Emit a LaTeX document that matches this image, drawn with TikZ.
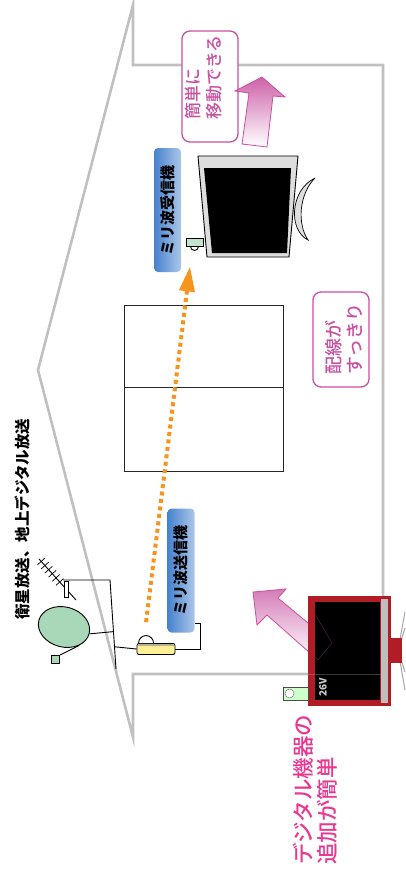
\documentclass[tikz,border=0pt]{standalone}
\usepackage{fontspec}
\newfontfamily\jpfont{Noto Sans CJK JP}
\newfontfamily\jpmedium{Noto Sans CJK JP Medium}
\usepackage{graphicx}
\usepackage{tikz}
\usetikzlibrary{arrows.meta,shapes.geometric,calc}

\definecolor{wallgray}{RGB}{192,192,192}
\definecolor{tagpink}{RGB}{200,80,160}
\definecolor{hotpink}{RGB}{232,56,146}
\definecolor{beamorange}{RGB}{247,148,30}
\definecolor{dishgreen}{RGB}{168,216,184}
\definecolor{boxyellow}{RGB}{255,240,150}
\definecolor{barblue}{RGB}{70,130,205}
\definecolor{tvred}{RGB}{178,28,36}

\begin{document}
\begin{tikzpicture}[x=1pt, y=-1pt, font=\jpfont,
  wall/.style={draw=wallgray, line width=2.6pt},
  gear/.style={draw=black, line width=0.9pt},
  radiobar/.style={rounded corners=4pt, left color=barblue, middle color=white,
                   right color=barblue!45, minimum width=27pt, minimum height=124pt, inner sep=0pt,
                   font=\jpfont\bfseries\fontsize{15}{15}\selectfont},
  tagbox/.style={rotate=90, draw=tagpink, line width=1.3pt, rounded corners=8pt,
                 fill=white, minimum height=56pt, inner sep=0pt},
  tagtext/.style={rotate=90, anchor=west, align=left, inner sep=0pt, text=tagpink},
  beam/.style={beamorange, line width=4pt, dash pattern=on 4pt off 3.5pt,
               -{Triangle[length=25pt,width=15pt]}}]

\useasboundingbox (0,0) rectangle (405,870);

% house section
\draw[wall] (133,737) -- (38,370) -- (133,5) -- (133,65) -- (383,65) -- (383,674) -- (133,674) -- cycle;
\draw[black!85, line width=1pt] (124,305) rectangle (283,471);
\draw[black!85, line width=1pt] (124,387) -- (283,387);

% receiving set upstairs
\draw[line width=0.9pt, fill=black!13] (198,156) -- (298,156) -- (289,257) -- (207,257) -- cycle;
\fill[black] (204,168) -- (291,168) -- (287,253) -- (212,253) -- cycle;
\draw[line width=0.7pt, fill=black!13] (315,178) .. controls (290,190) and (288,230) .. (308,240)
  .. controls (297,224) and (299,194) .. (315,178);
\node[gear, fill=dishgreen!70, minimum width=17pt, minimum height=8pt, inner sep=0pt] (rxunit) at (194.5,242) {};
\draw[gear] ([xshift=-4pt]rxunit.south) arc[start angle=180, end angle=360, radius=4pt];
\node[radiobar] (rxbar) at (167.5,210) {\rotatebox{90}{ミリ波受信機}};

% antennas
\coordinate (mastA) at (110,580);
\coordinate (mastB) at (116,669);
\coordinate (yagiA) at (39,559);
\coordinate (yagiB) at (76,600);
\draw[gear] (63,580) -- (mastA) -- (mastB);
\draw[gear] (yagiA) -- (yagiB);
\foreach \t in {0.06,0.16,...,0.6}
  \draw[gear, line width=0.7pt] ($(yagiA)!\t!(yagiB)!5pt!90:(yagiB)$) -- ($(yagiA)!\t!(yagiB)!5pt!-90:(yagiB)$);
\draw[line width=0.7pt, fill=white] (64,581) rectangle (68,597);
\node[ellipse, gear, fill=dishgreen, minimum width=52pt, minimum height=40pt, rotate=-15] (dish) at (64,627) {};
\node[gear, fill=dishgreen, minimum size=8pt, inner sep=0pt] (lnb) at (55.5,659.5) {};
\draw[gear] (dish.east) -- ($(mastA)!0.58!(mastB)$);
\draw[gear] (lnb.north east) -- (dish.-35);

% transmitter
\node[gear, fill=boxyellow, rounded corners=2pt, minimum width=38pt, minimum height=11pt, inner sep=0pt] (txunit) at (156,649) {};
\fill[boxyellow!60!black!70] ([shift={(1pt,-0.5pt)}]txunit.north west) rectangle ([shift={(-1pt,-2.5pt)}]txunit.north east);
\draw[gear] ($(mastA)!0.75!(mastB)$) -- (txunit.west);
\draw[gear, fill=white] ([xshift=2pt]txunit.north west) arc[start angle=180, end angle=0, radius=7.5pt];
\node[radiobar] (txbar) at (181,570.5) {\rotatebox{90}{ミリ波送信機}};
\draw[gear] (txunit.east) -- ++(25,0) |- ([yshift=9pt]txbar.south east);

\draw[beam] ([shift={(9.5pt,21pt)}]txunit.north west) -- ([shift={(-4.5pt,-20pt)}]rxunit.south);

% labels
\node[tagbox, minimum width=111pt] (movebox) at (210,86.5) {};
\node[tagtext, font=\jpmedium\fontsize{17}{21}\selectfont] (movetxt) at (204,120) {簡単に\\移動できる};
\shade[top color=tagpink!90, bottom color=white, draw=tagpink, line width=0.8pt]
  (242,144) -- (249,93) -- (235,91) -- (262,77) -- (285,97) -- (273,96) -- (267,147) -- cycle;

\node[tagbox, minimum width=95pt] (wirebox) at (341,339.5) {};
\node[tagtext, font=\jpmedium\fontsize{18}{21}\selectfont] (wiretxt) at (344,375) {配線が\\すっきり};

% new set downstairs
\shade[shading angle=51, top color=tagpink!75, bottom color=white, draw=tagpink, line width=0.8pt]
  (253,592) -- (286,589) -- (278,598) -- (332,643) -- (318,660) -- (267,615) -- (257,625) -- cycle;
\fill[tvred] (308,596) rectangle (391,706);
\fill[black] (315,602) rectangle (380,700);
\fill[black!25] (381,599) rectangle (388,703);
\foreach \p in {(405,612),(405,628),(405,672),(405,690)}
  \draw[black!35, line width=1pt] (398,650) -- \p;
\fill[tvred] (391,638) rectangle (402,663);
\draw[tagpink, opacity=0.35, line width=0.6pt] (315,614) -- (332,643) -- (318,660) -- (315,657);
\draw[wallgray, opacity=0.3, line width=1pt] (308,674) -- (383,674);
\node[rotate=90, text=black!20, font=\jpfont\bfseries\fontsize{10}{10}\selectfont, inner sep=0pt] (inch) at (323,687) {26V};
\node[draw=black!70, line width=0.9pt, fill=green!20!white, minimum width=25pt, minimum height=13pt, inner sep=0pt] (tuner) at (295.5,693.5) {};
\draw[black!60, fill=white] ([xshift=7pt]tuner.west) circle[radius=4.5pt];

\node[rotate=90, anchor=west, align=left, inner sep=0pt, text=hotpink,
      font=\jpmedium\fontsize{21.5}{24}\selectfont] (addtxt) at (315,865) {デジタル機器の\\追加が簡単};
\node[rotate=90, anchor=west, inner sep=0pt,
      font=\jpfont\bfseries\fontsize{15.5}{15.5}\selectfont] (srctxt) at (22.5,620) {衛星放送、地上デジタル放送};
\end{tikzpicture}
\end{document}
